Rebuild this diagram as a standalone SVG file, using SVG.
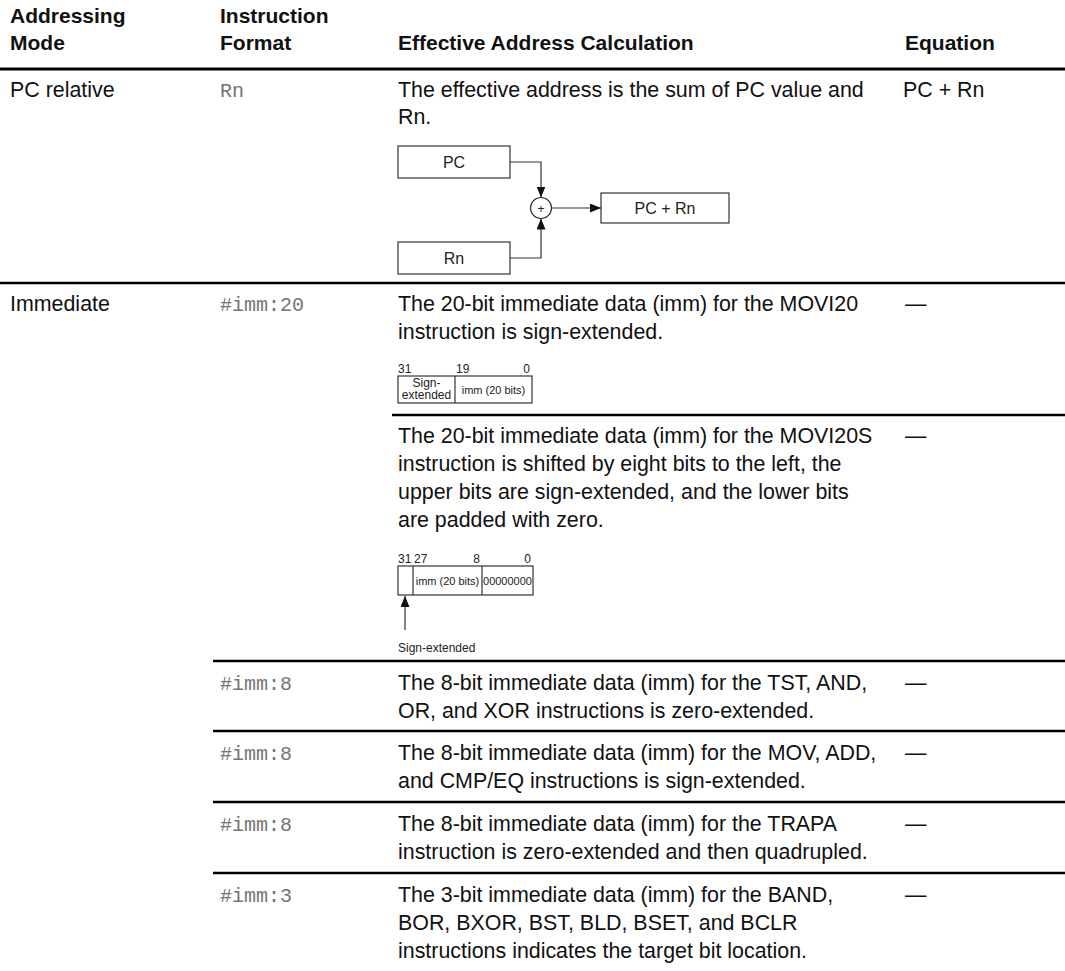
<svg xmlns="http://www.w3.org/2000/svg" width="1065" height="971" viewBox="0 0 1065 971">
  <style>
    .hd { font-family: "Liberation Sans", Arial, sans-serif; font-weight: bold; font-size: 21px; fill: #111; }
    .tx { font-family: "Liberation Sans", Arial, sans-serif; font-size: 21.4px; fill: #111; }
    .mono { font-family: "Liberation Mono", "Courier New", monospace; font-size: 20px; fill: #747474; }
    .sm { font-family: "Liberation Sans", Arial, sans-serif; font-size: 16px; fill: #222; }
    .bit { font-family: "Liberation Sans", Arial, sans-serif; font-size: 12px; fill: #222; }
    .bits { font-family: "Liberation Sans", Arial, sans-serif; font-size: 11px; fill: #222; }
    .rule { stroke: #000; stroke-width: 2.5; }
    .rule-hd { stroke: #000; stroke-width: 3; }
    .box { fill: #fff; stroke: #333; stroke-width: 1.2; }
    .wire { fill: none; stroke: #333; stroke-width: 1.2; }
  </style>
  <defs>
    <marker id="arrow" markerUnits="userSpaceOnUse" markerWidth="11" markerHeight="9" refX="11" refY="4.5" orient="auto">
      <path d="M0,0 L11,4.5 L0,9 Z" fill="#111"/>
    </marker>
  </defs>

  <!-- table header -->
  <g id="header">
    <text class="hd" x="10" y="23">Addressing</text>
    <text class="hd" x="10" y="50">Mode</text>
    <text class="hd" x="220" y="23">Instruction</text>
    <text class="hd" x="220" y="50">Format</text>
    <text class="hd" x="398" y="50">Effective Address Calculation</text>
    <text class="hd" x="905" y="50">Equation</text>
  </g>

  <!-- table rules -->
  <g id="rules">
    <line class="rule-hd" x1="0" y1="69" x2="1065" y2="69"/>
    <line class="rule" x1="0" y1="283" x2="1065" y2="283"/>
    <line class="rule" x1="392" y1="415" x2="1065" y2="415"/>
    <line class="rule" x1="213" y1="661" x2="1065" y2="661"/>
    <line class="rule" x1="213" y1="731" x2="1065" y2="731"/>
    <line class="rule" x1="213" y1="802" x2="1065" y2="802"/>
    <line class="rule" x1="213" y1="873" x2="1065" y2="873"/>
  </g>

  <!-- PC relative row -->
  <g id="row-pc-relative">
    <text class="tx" x="10" y="97">PC relative</text>
    <text class="mono" x="220" y="97">Rn</text>
    <text class="tx" x="398" y="97">The effective address is the sum of PC value and</text>
    <text class="tx" x="398" y="124">Rn.</text>
    <text class="tx" x="903" y="97">PC + Rn</text>
  </g>

  <g id="node-pc">
    <rect class="box" x="398" y="146" width="112" height="32"/>
    <text class="sm" x="454" y="168" text-anchor="middle">PC</text>
  </g>
  <g id="node-rn">
    <rect class="box" x="398" y="242" width="112" height="32"/>
    <text class="sm" x="454" y="264" text-anchor="middle">Rn</text>
  </g>
  <g id="node-adder">
    <circle cx="541" cy="208" r="10.5" fill="#fff" stroke="#333" stroke-width="1.2"/>
    <text class="bit" x="541" y="212.5" text-anchor="middle">+</text>
  </g>
  <g id="node-result">
    <rect class="box" x="601" y="193" width="128" height="30"/>
    <text class="sm" x="665" y="214" text-anchor="middle">PC + Rn</text>
  </g>
  <g id="connectors">
    <path class="wire" d="M510,162 H541 V197.5" marker-end="url(#arrow)"/>
    <path class="wire" d="M510,258 H541 V218.5" marker-end="url(#arrow)"/>
    <path class="wire" d="M551.5,208 H601" marker-end="url(#arrow)"/>
  </g>

  <!-- Immediate: #imm:20, MOVI20 -->
  <g id="row-movi20">
    <text class="tx" x="10" y="311">Immediate</text>
    <text class="mono" x="220" y="311">#imm:20</text>
    <text class="tx" x="398" y="311">The 20-bit immediate data (imm) for the MOVI20</text>
    <text class="tx" x="398" y="339">instruction is sign-extended.</text>
    <text class="tx" x="905" y="311">—</text>
  </g>
  <g id="field-movi20">
    <text class="bit" x="398" y="373">31</text>
    <text class="bit" x="456" y="373">19</text>
    <text class="bit" x="530" y="373" text-anchor="end">0</text>
    <rect class="box" x="398" y="376" width="134" height="27"/>
    <line class="wire" x1="455" y1="376" x2="455" y2="403"/>
    <text class="bit" x="426.5" y="387" text-anchor="middle">Sign-</text>
    <text class="bit" x="426.5" y="399" text-anchor="middle">extended</text>
    <text class="bits" x="493.5" y="394" text-anchor="middle">imm (20 bits)</text>
  </g>

  <!-- MOVI20S -->
  <g id="row-movi20s">
    <text class="tx" x="398" y="443">The 20-bit immediate data (imm) for the MOVI20S</text>
    <text class="tx" x="398" y="471">instruction is shifted by eight bits to the left, the</text>
    <text class="tx" x="398" y="499">upper bits are sign-extended, and the lower bits</text>
    <text class="tx" x="398" y="527">are padded with zero.</text>
    <text class="tx" x="905" y="443">—</text>
  </g>
  <g id="field-movi20s">
    <text class="bit" x="398" y="563">31</text>
    <text class="bit" x="414" y="563">27</text>
    <text class="bit" x="480" y="563" text-anchor="end">8</text>
    <text class="bit" x="531" y="563" text-anchor="end">0</text>
    <rect class="box" x="398" y="566" width="135" height="29"/>
    <line class="wire" x1="413" y1="566" x2="413" y2="595"/>
    <line class="wire" x1="482" y1="566" x2="482" y2="595"/>
    <text class="bits" x="447.5" y="585" text-anchor="middle">imm (20 bits)</text>
    <text class="bits" x="507.5" y="585" text-anchor="middle">00000000</text>
    <path class="wire" d="M405,630 V596" marker-end="url(#arrow)"/>
    <text class="bit" x="398" y="652">Sign-extended</text>
  </g>

  <!-- #imm:8 rows -->
  <g id="row-imm8-logic">
    <text class="mono" x="220" y="690">#imm:8</text>
    <text class="tx" x="398" y="690">The 8-bit immediate data (imm) for the TST, AND,</text>
    <text class="tx" x="398" y="718">OR, and XOR instructions is zero-extended.</text>
    <text class="tx" x="905" y="690">—</text>
  </g>
  <g id="row-imm8-arith">
    <text class="mono" x="220" y="760">#imm:8</text>
    <text class="tx" x="398" y="760">The 8-bit immediate data (imm) for the MOV, ADD,</text>
    <text class="tx" x="398" y="788">and CMP/EQ instructions is sign-extended.</text>
    <text class="tx" x="905" y="760">—</text>
  </g>
  <g id="row-imm8-trapa">
    <text class="mono" x="220" y="831">#imm:8</text>
    <text class="tx" x="398" y="831">The 8-bit immediate data (imm) for the TRAPA</text>
    <text class="tx" x="398" y="859">instruction is zero-extended and then quadrupled.</text>
    <text class="tx" x="905" y="831">—</text>
  </g>

  <!-- #imm:3 row -->
  <g id="row-imm3">
    <text class="mono" x="220" y="902">#imm:3</text>
    <text class="tx" x="398" y="902">The 3-bit immediate data (imm) for the BAND,</text>
    <text class="tx" x="398" y="930">BOR, BXOR, BST, BLD, BSET, and BCLR</text>
    <text class="tx" x="398" y="958">instructions indicates the target bit location.</text>
    <text class="tx" x="905" y="902">—</text>
  </g>
</svg>
